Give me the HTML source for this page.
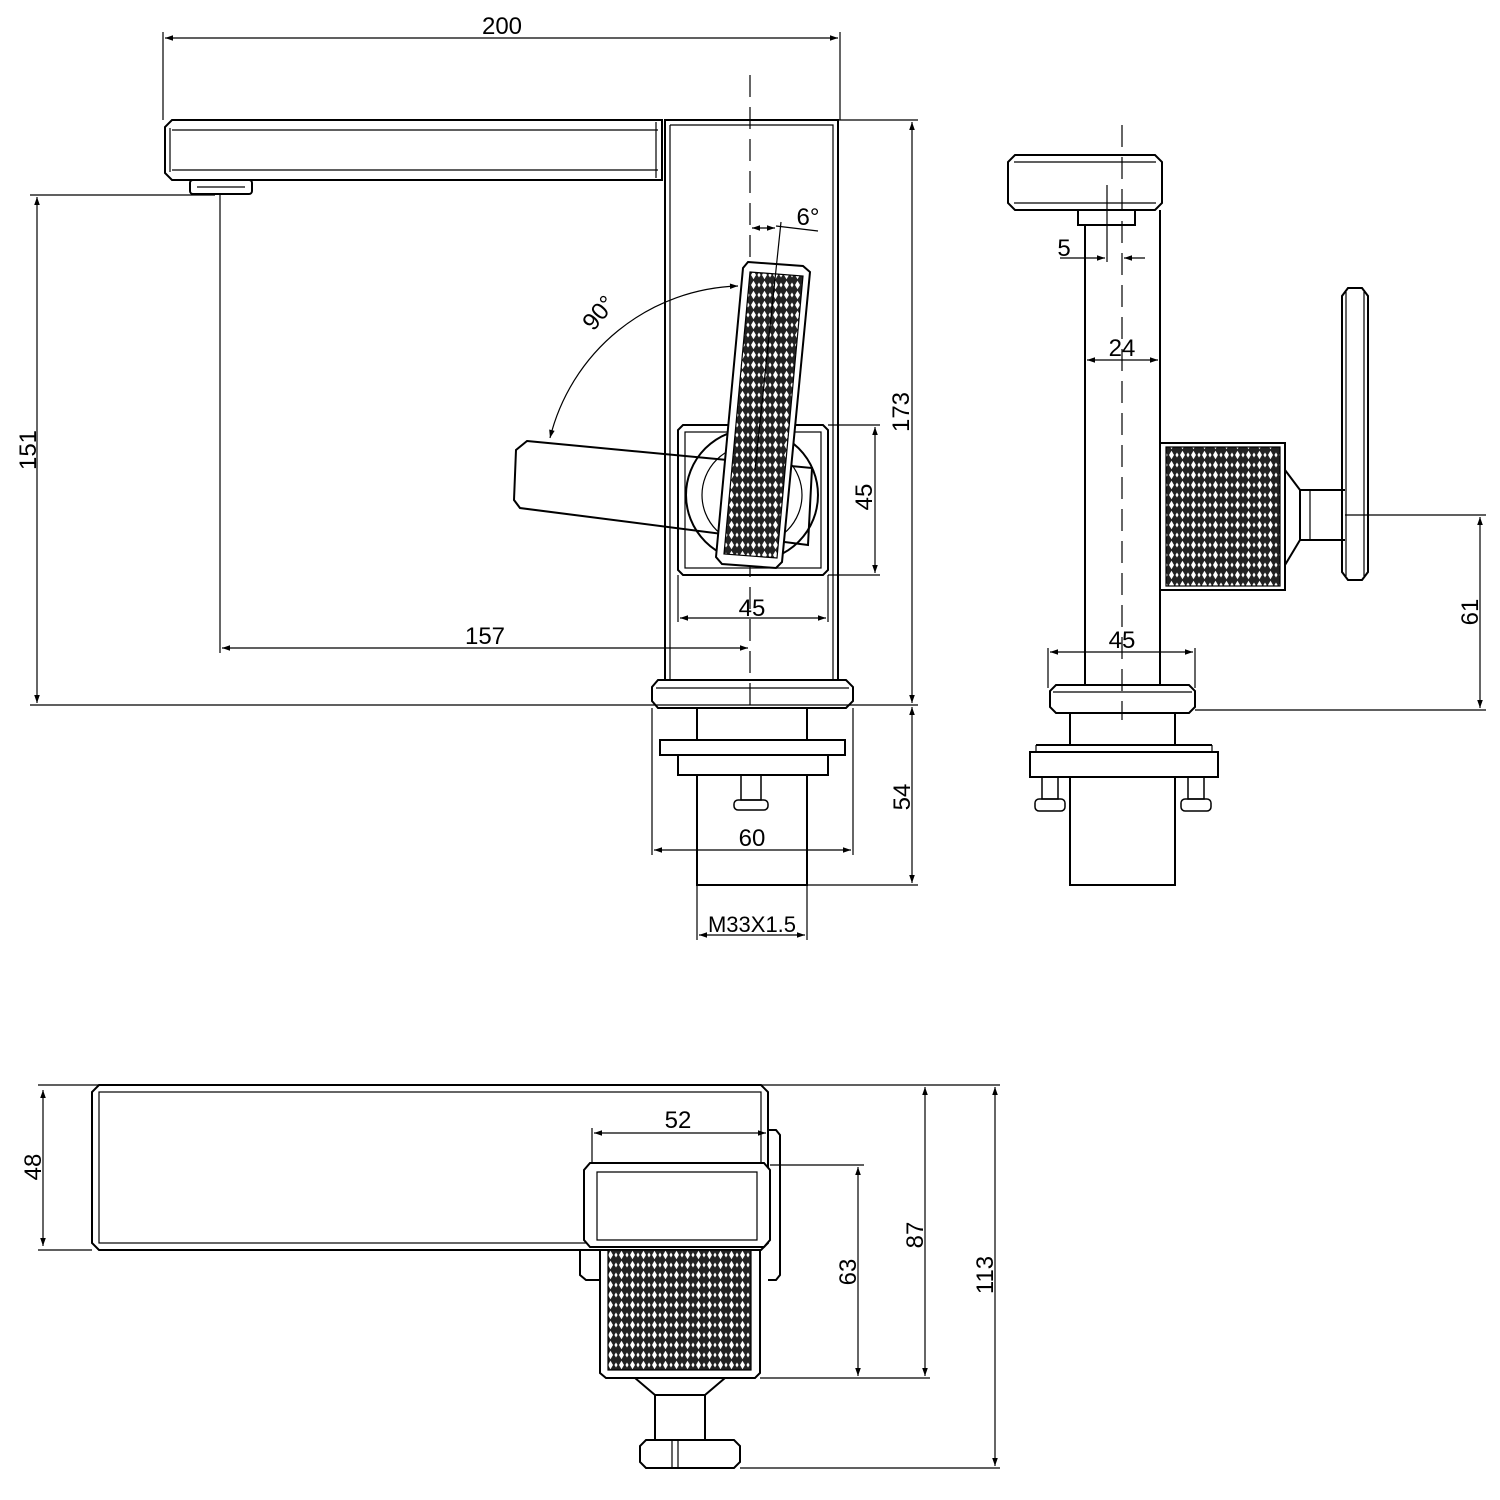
<!DOCTYPE html>
<html><head><meta charset="utf-8"><style>html,body{margin:0;padding:0;background:#fff}svg{display:block}</style></head>
<body>
<svg width="1500" height="1500" viewBox="0 0 1500 1500" xmlns="http://www.w3.org/2000/svg" font-family="Liberation Sans, Arial, sans-serif">
<defs>
<pattern id="k" width="11" height="10" patternUnits="userSpaceOnUse">
<rect width="11" height="10" fill="#222"/>
<path d="M5.5 0.8 L8 5 L5.5 9.2 L3 5Z" fill="#fff"/>
<path d="M0 2.5 L1.6 5 L0 7.5Z M11 2.5 L9.4 5 L11 7.5Z" fill="#fff"/>
</pattern>
<marker id="a" viewBox="0 0 10 10" refX="10" refY="5" markerWidth="12" markerHeight="8" orient="auto-start-reverse" markerUnits="userSpaceOnUse"><path d="M0 1.5 L10 5 L0 8.5Z" fill="#000"/></marker>
</defs>
<g fill="none" stroke="#000" stroke-width="1.2">
<line x1="163" y1="32" x2="163" y2="120"/><line x1="840" y1="32" x2="840" y2="120"/>
<line x1="165" y1="38" x2="838" y2="38" marker-start="url(#a)" marker-end="url(#a)"/>
<path d="M172 120 L662 120 L662 180 L172 180 L165 173 L165 127Z" stroke-width="2"/>
<path d="M172 130 L658 130 M172 170 L658 170 M170 128 L170 172 M656 122 L656 178"/>
<rect x="190" y="180" width="62" height="14" stroke-width="2" rx="3"/>
<line x1="197" y1="187" x2="245" y2="187"/>
<rect x="665" y="120" width="173" height="560" stroke-width="2"/>
<path d="M670 125 L833 125 L833 680 M670 125 L670 680"/>
<line x1="750" y1="75" x2="750" y2="710" stroke-dasharray="22 10"/>
<line x1="838" y1="120" x2="918" y2="120"/>
<line x1="912" y1="122" x2="912" y2="703" marker-start="url(#a)" marker-end="url(#a)"/>
<line x1="30" y1="195" x2="215" y2="195"/>
<line x1="30" y1="705" x2="918" y2="705"/>
<line x1="37" y1="197" x2="37" y2="703" marker-start="url(#a)" marker-end="url(#a)"/>
<line x1="220" y1="195" x2="220" y2="653"/>
<line x1="222" y1="648" x2="748" y2="648" marker-start="url(#a)" marker-end="url(#a)"/>
<path d="M683 425 L823 425 L828 430 L828 570 L823 575 L683 575 L678 570 L678 430Z" stroke-width="2"/>
<rect x="685" y="432" width="136" height="136"/>
<circle cx="752" cy="495" r="66" stroke-width="2"/>
<circle cx="752" cy="495" r="50"/>
<line x1="828" y1="425" x2="880" y2="425"/><line x1="828" y1="575" x2="880" y2="575"/>
<line x1="875" y1="427" x2="875" y2="573" marker-start="url(#a)" marker-end="url(#a)"/>
<line x1="678" y1="575" x2="678" y2="622"/><line x1="828" y1="575" x2="828" y2="622"/>
<line x1="680" y1="618" x2="826" y2="618" marker-start="url(#a)" marker-end="url(#a)"/>
<path d="M527 441 L812 468 L808 545 L520 508 L514 500 L516 450Z" stroke-width="2"/>
<path d="M748 262 L803 266 L810 272 L782 562 L776 568 L722 564 L716 557 L743 268Z" fill="#fff" stroke-width="2"/>
<path d="M750 272 L803 276 L777 558 L724 554Z" fill="url(#k)"/>
<path d="M550 438 A200 200 0 0 1 738 286" marker-start="url(#a)" marker-end="url(#a)"/>
<line x1="752" y1="228" x2="775" y2="228" marker-start="url(#a)" marker-end="url(#a)"/>
<line x1="781" y1="222" x2="755" y2="470"/>
<line x1="776" y1="226" x2="818" y2="231"/>
<path d="M658 680 L846 680 L853 687 L853 701 L846 708 L658 708 L652 701 L652 687Z" stroke-width="2"/>
<line x1="656" y1="688" x2="849" y2="688"/>
<rect x="697" y="708" width="110" height="32" stroke-width="2"/>
<rect x="660" y="740" width="185" height="15" stroke-width="2"/>
<rect x="678" y="755" width="150" height="20" stroke-width="2"/>
<rect x="697" y="775" width="110" height="110" stroke-width="2"/>
<rect x="741" y="775" width="20" height="25" stroke-width="1.5"/>
<rect x="734" y="800" width="34" height="10" rx="4" stroke-width="1.5"/>
<line x1="853" y1="708" x2="853" y2="855"/><line x1="652" y1="708" x2="652" y2="855"/>
<line x1="654" y1="850" x2="851" y2="850" marker-start="url(#a)" marker-end="url(#a)"/>
<line x1="807" y1="885" x2="918" y2="885"/>
<line x1="912" y1="707" x2="912" y2="883" marker-start="url(#a)" marker-end="url(#a)"/>
<line x1="697" y1="885" x2="697" y2="940"/><line x1="807" y1="885" x2="807" y2="940"/>
<line x1="699" y1="935" x2="805" y2="935" marker-start="url(#a)" marker-end="url(#a)"/>
<path d="M1015 155 L1155 155 L1162 162 L1162 203 L1155 210 L1015 210 L1008 203 L1008 162Z" stroke-width="2"/>
<path d="M1014 162 L1156 162 M1014 203 L1156 203"/>
<line x1="1122" y1="125" x2="1122" y2="720" stroke-dasharray="22 10"/>
<rect x="1078" y="210" width="57" height="15" stroke-width="2"/>
<path d="M1085 225 L1085 685 M1160 210 L1160 685" stroke-width="2"/>
<line x1="1107" y1="185" x2="1107" y2="262"/>
<line x1="1060" y1="258" x2="1105" y2="258" marker-end="url(#a)"/>
<line x1="1145" y1="258" x2="1124" y2="258" marker-end="url(#a)"/>
<line x1="1087" y1="360" x2="1158" y2="360" marker-start="url(#a)" marker-end="url(#a)"/>
<rect x="1160" y="443" width="125" height="147" stroke-width="2"/>
<rect x="1166" y="447" width="114" height="139" fill="url(#k)"/>
<path d="M1285 470 L1300 490 L1345 490 M1285 565 L1300 540 L1345 540 M1300 490 L1300 540" stroke-width="2"/>
<path d="M1310 490 L1310 540"/>
<path d="M1348 288 L1362 288 L1368 296 L1368 572 L1362 580 L1348 580 L1342 572 L1342 296Z" stroke-width="2"/>
<line x1="1346" y1="292" x2="1346" y2="576"/><line x1="1364" y1="292" x2="1364" y2="576"/>
<line x1="1345" y1="515" x2="1486" y2="515"/><line x1="1195" y1="710" x2="1486" y2="710"/>
<line x1="1480" y1="517" x2="1480" y2="708" marker-start="url(#a)" marker-end="url(#a)"/>
<line x1="1048" y1="648" x2="1048" y2="688"/><line x1="1195" y1="648" x2="1195" y2="688"/>
<line x1="1050" y1="652" x2="1193" y2="652" marker-start="url(#a)" marker-end="url(#a)"/>
<path d="M1056 685 L1189 685 L1195 691 L1195 707 L1189 713 L1056 713 L1050 707 L1050 691Z" stroke-width="2"/>
<line x1="1053" y1="692" x2="1192" y2="692"/>
<rect x="1070" y="713" width="105" height="32" stroke-width="2"/>
<rect x="1030" y="752" width="188" height="25" stroke-width="2"/>
<line x1="1036" y1="745" x2="1212" y2="745" stroke-width="2"/>
<line x1="1036" y1="745" x2="1036" y2="752"/><line x1="1212" y1="745" x2="1212" y2="752"/>
<rect x="1070" y="777" width="105" height="108" stroke-width="2"/>
<rect x="1042" y="777" width="16" height="22" stroke-width="1.5"/>
<rect x="1035" y="799" width="30" height="12" rx="4" stroke-width="1.5"/>
<rect x="1188" y="777" width="16" height="22" stroke-width="1.5"/>
<rect x="1181" y="799" width="30" height="12" rx="4" stroke-width="1.5"/>
<path d="M99 1085 L761 1085 L768 1092 L768 1243 L761 1250 L99 1250 L92 1243 L92 1092Z" stroke-width="2"/>
<rect x="99" y="1092" width="662" height="151"/>
<line x1="38" y1="1085" x2="1000" y2="1085"/>
<line x1="38" y1="1250" x2="92" y2="1250"/>
<line x1="43" y1="1090" x2="43" y2="1246" marker-start="url(#a)" marker-end="url(#a)"/>
<line x1="592" y1="1128" x2="592" y2="1163"/>
<line x1="594" y1="1133" x2="766" y2="1133" marker-start="url(#a)" marker-end="url(#a)"/>
<path d="M768 1130 L776 1130 L780 1135 L780 1275 L776 1280 L768 1280 M586 1250 L580 1250 L580 1275 L586 1280 L600 1280" stroke-width="2"/>
<path d="M590 1163 L764 1163 L770 1170 L770 1240 L764 1247 L590 1247 L584 1240 L584 1170Z" fill="#fff" stroke-width="2"/>
<path d="M597 1172 L757 1172 L757 1240 L597 1240Z"/>
<path d="M605 1250 L600 1250 L600 1373 L606 1378 L755 1378 L760 1373 L760 1250" stroke-width="2"/>
<rect x="608" y="1250" width="143" height="120" fill="url(#k)"/>
<path d="M635 1378 L655 1395 L705 1395 L725 1378" stroke-width="2"/>
<path d="M655 1395 L655 1440 M705 1395 L705 1440" stroke-width="2"/>
<path d="M646 1440 L734 1440 L740 1446 L740 1462 L734 1468 L646 1468 L640 1462 L640 1446Z" stroke-width="2"/>
<line x1="672" y1="1440" x2="672" y2="1468"/><line x1="678" y1="1440" x2="678" y2="1468"/>
<line x1="770" y1="1165" x2="864" y2="1165"/>
<line x1="760" y1="1378" x2="930" y2="1378"/>
<line x1="740" y1="1468" x2="1000" y2="1468"/>
<line x1="858" y1="1167" x2="858" y2="1376" marker-start="url(#a)" marker-end="url(#a)"/>
<line x1="925" y1="1087" x2="925" y2="1376" marker-start="url(#a)" marker-end="url(#a)"/>
<line x1="995" y1="1087" x2="995" y2="1466" marker-start="url(#a)" marker-end="url(#a)"/>
</g>
<g font-size="24" fill="#000" text-anchor="middle">
<text x="502" y="34">200</text>
<text x="485" y="644">157</text>
<text x="752" y="616">45</text>
<text x="752" y="846">60</text>
<text x="752" y="932" font-size="22">M33X1.5</text>
<text x="808" y="225">6°</text>
<text transform="translate(605,318) rotate(-50)">90°</text>
<text transform="translate(36,450) rotate(-90)">151</text>
<text transform="translate(909,412) rotate(-90)">173</text>
<text transform="translate(872,497) rotate(-90)">45</text>
<text transform="translate(910,797) rotate(-90)">54</text>
<text x="1064" y="256">5</text>
<text x="1122" y="356">24</text>
<text x="1122" y="648">45</text>
<text transform="translate(1478,612) rotate(-90)">61</text>
<text transform="translate(41,1167) rotate(-90)">48</text>
<text x="678" y="1128">52</text>
<text transform="translate(856,1272) rotate(-90)">63</text>
<text transform="translate(923,1235) rotate(-90)">87</text>
<text transform="translate(993,1275) rotate(-90)">113</text>
</g>
</svg>
</body></html>
